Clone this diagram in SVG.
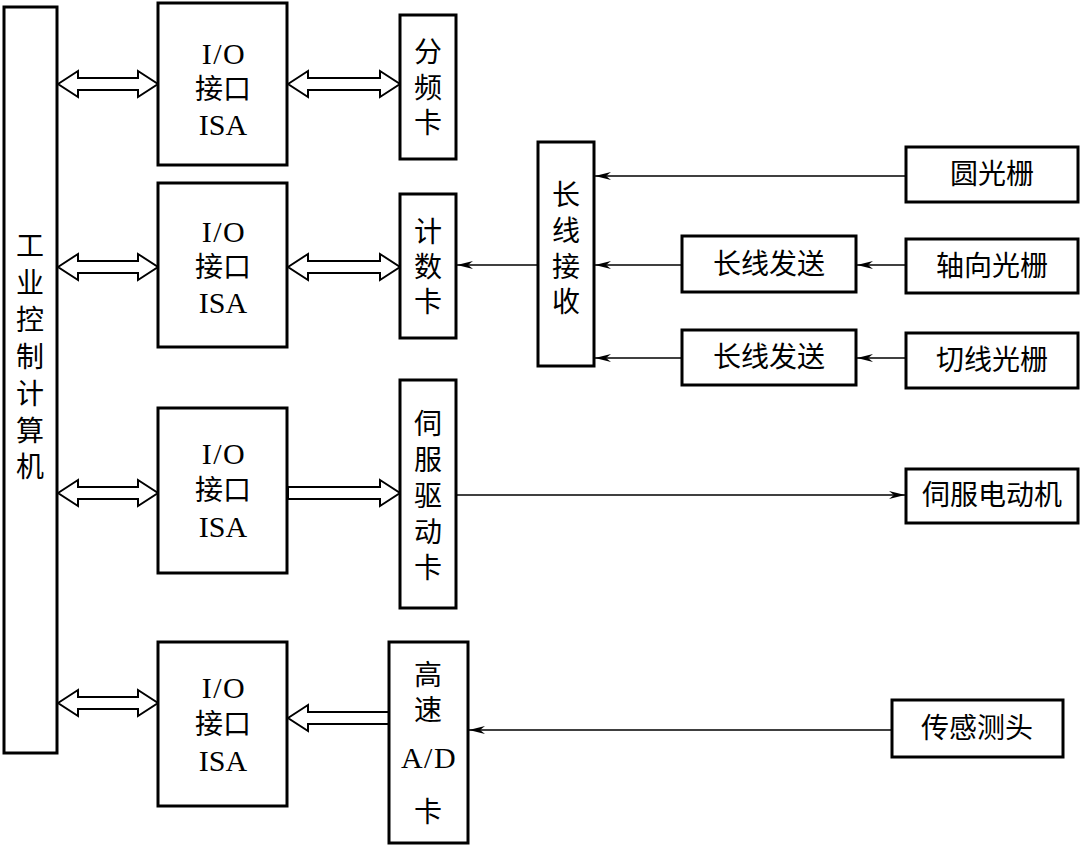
<svg xmlns="http://www.w3.org/2000/svg" width="1081" height="846" viewBox="0 0 1081 846">
<defs>
<style>
.box{fill:#fff;stroke:#000;stroke-width:3}
.t{font-family:"Liberation Serif","Noto Sans CJK SC",serif;font-size:28px;fill:#000;text-anchor:middle;dominant-baseline:central}
.lat{font-family:"Liberation Serif","Noto Sans CJK SC",serif;font-size:30px;fill:#000;text-anchor:middle;dominant-baseline:central}
.big{fill:#fff;stroke:#000;stroke-width:2;stroke-linejoin:miter}
.ln{fill:none;stroke:#000;stroke-width:1.6}
</style>
<marker id="ah" markerUnits="userSpaceOnUse" viewBox="0 0 16 8" refX="16" refY="4" markerWidth="16" markerHeight="8" orient="auto">
<path d="M0,0 L16,4 L0,8 L5,4 Z" fill="#000"/>
</marker>
</defs>

<g id="connectors">
<path class="big" d="M58,84 L78,71 L78,78 L138,78 L138,71 L158,84 L138,97 L138,90 L78,90 L78,97 Z"/>
<path class="big" d="M58,267 L78,254 L78,261 L138,261 L138,254 L158,267 L138,280 L138,273 L78,273 L78,280 Z"/>
<path class="big" d="M58,493 L78,480 L78,487 L138,487 L138,480 L158,493 L138,506 L138,499 L78,499 L78,506 Z"/>
<path class="big" d="M58,703 L78,690 L78,697 L138,697 L138,690 L158,703 L138,716 L138,709 L78,709 L78,716 Z"/>
<path class="big" d="M288,84 L308,71 L308,78 L380,78 L380,71 L400,84 L380,97 L380,90 L308,90 L308,97 Z"/>
<path class="big" d="M288,267 L308,254 L308,261 L380,261 L380,254 L400,267 L380,280 L380,273 L308,273 L308,280 Z"/>
<path class="big" d="M288,487 L380,487 L380,480 L400,493 L380,506 L380,499 L288,499 Z"/>
<path class="big" d="M288,718 L308,705 L308,712 L389,712 L389,724 L308,724 L308,731 Z"/>
<line class="ln" x1="906" y1="176" x2="595" y2="176" marker-end="url(#ah)"/>
<line class="ln" x1="906" y1="265" x2="857" y2="265" marker-end="url(#ah)"/>
<line class="ln" x1="682" y1="265" x2="595" y2="265" marker-end="url(#ah)"/>
<line class="ln" x1="906" y1="358" x2="857" y2="358" marker-end="url(#ah)"/>
<line class="ln" x1="682" y1="358" x2="595" y2="358" marker-end="url(#ah)"/>
<line class="ln" x1="538" y1="265" x2="457" y2="265" marker-end="url(#ah)"/>
<line class="ln" x1="457" y1="495" x2="905" y2="495" marker-end="url(#ah)"/>
<line class="ln" x1="892" y1="730" x2="469" y2="730" marker-end="url(#ah)"/>
</g>

<g id="computer">
<rect class="box" x="4" y="7" width="53" height="746"/>
<text class="t"><tspan x="30" y="246">工</tspan><tspan x="30" y="283">业</tspan><tspan x="30" y="320">控</tspan><tspan x="30" y="357">制</tspan><tspan x="30" y="394">计</tspan><tspan x="30" y="431">算</tspan><tspan x="30" y="467">机</tspan></text>
</g>

<g id="io1">
<rect class="box" x="158" y="3" width="129" height="162"/>
<text class="lat" x="224" y="53" letter-spacing="1.5">I/O</text>
<text class="t" x="223" y="89">接口</text>
<text class="lat" x="223" y="124">ISA</text>
</g>
<g id="io2">
<rect class="box" x="158" y="183" width="129" height="164"/>
<text class="lat" x="224" y="231" letter-spacing="1.5">I/O</text>
<text class="t" x="223" y="267">接口</text>
<text class="lat" x="223" y="302">ISA</text>
</g>
<g id="io3">
<rect class="box" x="158" y="408" width="129" height="165"/>
<text class="lat" x="224" y="453" letter-spacing="1.5">I/O</text>
<text class="t" x="223" y="490">接口</text>
<text class="lat" x="223" y="526">ISA</text>
</g>
<g id="io4">
<rect class="box" x="158" y="642" width="129" height="164"/>
<text class="lat" x="224" y="687" letter-spacing="1.5">I/O</text>
<text class="t" x="223" y="724">接口</text>
<text class="lat" x="223" y="760">ISA</text>
</g>

<g id="fenpin">
<rect class="box" x="400" y="15" width="56" height="144"/>
<text class="t"><tspan x="428" y="52">分</tspan><tspan x="428" y="88">频</tspan><tspan x="428" y="123">卡</tspan></text>
</g>
<g id="jishu">
<rect class="box" x="400" y="194" width="56" height="144"/>
<text class="t"><tspan x="428" y="232">计</tspan><tspan x="428" y="267">数</tspan><tspan x="428" y="302">卡</tspan></text>
</g>
<g id="sifuqudong">
<rect class="box" x="400" y="380" width="56" height="228"/>
<text class="t"><tspan x="428" y="424">伺</tspan><tspan x="428" y="460">服</tspan><tspan x="428" y="496">驱</tspan><tspan x="428" y="532">动</tspan><tspan x="428" y="568">卡</tspan></text>
</g>
<g id="ad">
<rect class="box" x="389" y="642" width="79" height="201"/>
<text class="t"><tspan x="428" y="675">高</tspan><tspan x="428" y="710">速</tspan></text>
<text class="lat" x="429" y="757" letter-spacing="1.5">A/D</text>
<text class="t" x="428" y="812">卡</text>
</g>
<g id="receiver">
<rect class="box" x="538" y="142" width="56" height="224"/>
<text class="t"><tspan x="566" y="195">长</tspan><tspan x="566" y="231">线</tspan><tspan x="566" y="267">接</tspan><tspan x="566" y="302">收</tspan></text>
</g>
<g id="sender1">
<rect class="box" x="682" y="236" width="174" height="56"/>
<text class="t" x="769" y="264">长线发送</text>
</g>
<g id="sender2">
<rect class="box" x="682" y="330" width="174" height="55"/>
<text class="t" x="769" y="357">长线发送</text>
</g>
<g id="yuanguangshan">
<rect class="box" x="906" y="147" width="172" height="55"/>
<text class="t" x="992" y="174">圆光栅</text>
</g>
<g id="zhouxiang">
<rect class="box" x="906" y="239" width="172" height="54"/>
<text class="t" x="992" y="266">轴向光栅</text>
</g>
<g id="qiexian">
<rect class="box" x="906" y="333" width="172" height="55"/>
<text class="t" x="992" y="360">切线光栅</text>
</g>
<g id="motor">
<rect class="box" x="906" y="469" width="172" height="54"/>
<text class="t" x="992" y="495" font-size="26">伺服电动机</text>
</g>
<g id="sensor">
<rect class="box" x="892" y="700" width="171" height="57"/>
<text class="t" x="977" y="728">传感测头</text>
</g>
</svg>
